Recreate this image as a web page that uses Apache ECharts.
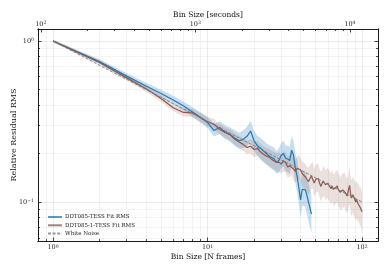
<!DOCTYPE html>
<html><head><meta charset="utf-8">
<script src="https://cdn.jsdelivr.net/npm/echarts@6/dist/echarts.min.js"></script>
<style>html,body{margin:0;padding:0;background:#fff}#c{width:389px;height:272px}</style>
</head><body><div id="c"></div>
<script>
// ---------------- data ----------------
const bins = [1,2,3,4,5,6,7,8,9,10,11,12,13,14,15,16,17,18,19,20,21,22,23,24,25,26,27,28,29,30,
  31,32,33,34,35,36,37,38,39,40,41,42,43,44,45,46,47,48,49,50,51,52,53,54,55,56,57,58,59,60,
  61,62,63,64,65,66,67,68,69,70,71,72,73,74,75,76,77,78,79,80,81,82,83,84,85,86,87,88,89,90,
  91,92,93,94,95,96,97,98,99,100];
const blueRms = [1.000,0.745,0.605,0.525,0.472,0.430,0.395,0.362,0.335,0.312,
  0.278,0.290,0.272,0.262,0.250,0.240,0.245,0.256,0.276,0.240,
  0.224,0.216,0.208,0.200,0.193,0.189,0.185,0.176,0.182,0.195,
  0.200,0.187,0.185,0.181,0.210,0.195,0.162,0.145,0.122,0.103,
  0.120,0.122,0.119,0.110,0.100,0.092,0.084];
const blueErr = [0.008,0.014,0.018,0.021,0.024,0.026,0.028,0.030,0.032,0.035,
  0.037,0.040,0.042,0.045,0.048,0.050,0.055,0.060,0.065,0.062,
  0.062,0.064,0.066,0.066,0.068,0.070,0.072,0.070,0.075,0.078,
  0.080,0.080,0.082,0.085,0.090,0.090,0.095,0.100,0.100,0.110,
  0.105,0.110,0.110,0.115,0.120,0.120,0.120];
const brownRms = [1.000,0.735,0.590,0.505,0.440,0.385,0.360,0.358,0.335,0.315,
  0.305,0.282,0.270,0.262,0.245,0.236,0.228,0.218,0.222,0.212,
  0.215,0.205,0.198,0.193,0.190,0.184,0.180,0.176,0.177,0.172,
  0.180,0.176,0.165,0.168,0.172,0.160,0.155,0.162,0.166,0.158,
  0.150,0.147,0.143,0.138,0.134,0.140,0.145,0.147,0.131,0.138,
  0.142,0.140,0.132,0.125,0.128,0.135,0.133,0.128,0.130,0.131,
  0.127,0.124,0.121,0.126,0.120,0.118,0.122,0.124,0.126,0.120,
  0.117,0.115,0.112,0.116,0.119,0.117,0.120,0.114,0.112,0.109,
  0.112,0.121,0.127,0.115,0.106,0.108,0.111,0.108,0.106,0.103,
  0.100,0.104,0.101,0.098,0.100,0.096,0.093,0.094,0.089,0.087];
const brownErr = [0.008,0.012,0.015,0.018,0.020,0.022,0.024,0.026,0.028,0.030,
  0.031,0.032,0.033,0.034,0.036,0.038,0.040,0.042,0.044,0.046,
  0.048,0.050,0.050,0.052,0.054,0.055,0.056,0.058,0.060,0.060,
  0.062,0.064,0.065,0.066,0.068,0.070,0.070,0.072,0.074,0.075,
  0.076,0.078,0.080,0.080,0.082,0.085,0.080,0.083,0.086,0.088,
  0.085,0.090,0.088,0.092,0.090,0.094,0.090,0.095,0.092,0.096,
  0.094,0.098,0.095,0.100,0.096,0.100,0.098,0.102,0.100,0.104,
  0.100,0.105,0.102,0.106,0.104,0.108,0.105,0.110,0.106,0.110,
  0.108,0.112,0.115,0.110,0.112,0.114,0.110,0.115,0.112,0.116,
  0.114,0.118,0.115,0.120,0.116,0.120,0.118,0.122,0.120,0.125];
const whiteNoiseN = [1, 100];
const whiteNoiseRms = [1, 0.1];
const cadenceSec = 120;
const xMajor = [1, 10, 100],         xMajorExp = ['0', '1', '2'];
const topMajor = [100, 1000, 10000], topMajorExp = ['2', '3', '4'];
const yMajor = [0.1, 1],             yMajorExp = ['−1', '0'];
const seriesNames = ['DDT085-TESS Fit RMS', 'DDT085-1-TESS Fit RMS', 'White Noise'];

// ---------------- helpers ----------------
const L = Math.log10;
const F = 'DejaVu Serif';
const xLog = [-0.097, 2.103];
const yLog = [-1.242, 0.0745];
const tLog = [xLog[0] + L(cadenceSec), xLog[1] + L(cadenceSec)];
function minorLogs(lo, hi) {
  const out = [];
  for (let e = Math.floor(lo) - 1; e <= Math.ceil(hi); e++)
    for (let m = 2; m <= 9; m++) { const v = L(m) + e; if (v >= lo && v <= hi) out.push(v); }
  return out;
}
function fmt(major, exps) {
  return v => { for (let i = 0; i < major.length; i++) if (Math.abs(L(major[i]) - v) < 1e-6) return '{b|10}{s|' + exps[i] + '}'; return ''; };
}
const dark = '#1a1a1a';
function axis(range, pos, ticks, tickLen, opts) {
  return Object.assign({
    type: 'value', position: pos, min: range[0], max: range[1],
    axisLine: { show: true, onZero: false, lineStyle: { color: dark, width: 1 } },
    axisTick: { show: true, inside: true, length: tickLen, customValues: ticks, lineStyle: { color: dark, width: 0.8 } },
    axisLabel: { show: false },
    splitLine: { show: false },
    splitArea: { show: false },
    nameMoveOverlap: false
  }, opts);
}
const rich = {
  b: { fontFamily: F, fontSize: 6.5, color: '#222' },
  s: { fontFamily: F, fontSize: 4.6, color: '#222', verticalAlign: 'top' }
};
const nameStyle = { fontFamily: F, fontSize: 7.5, color: '#111' };

const xMajLogs = xMajor.map(L), yMajLogs = yMajor.map(L), tMajLogs = topMajor.map(L);

const xAxes = [
  axis(xLog, 'bottom', xMajLogs, 3.5, {
    axisLabel: { show: true, customValues: xMajLogs, formatter: fmt(xMajor, xMajorExp), margin: 3, rich: rich },
    splitLine: { show: true, lineStyle: { color: '#dddddd', width: 0.6 } },
    name: 'Bin Size [N frames]', nameLocation: 'middle', nameGap: 12, nameTextStyle: nameStyle
  }),
  axis(xLog, 'bottom', minorLogs(xLog[0], xLog[1]), 2, {
    splitLine: { show: true, lineStyle: { color: '#ebebeb', width: 0.6 } }
  }),
  axis(tLog, 'top', tMajLogs, 3.5, {
    axisLabel: { show: true, customValues: tMajLogs, formatter: fmt(topMajor, topMajorExp), margin: 1.5, rich: rich },
    name: 'Bin Size [seconds]', nameLocation: 'middle', nameGap: 10, nameTextStyle: nameStyle
  }),
  axis(tLog, 'top', minorLogs(tLog[0], tLog[1]), 2, {})
];
const yAxes = [
  axis(yLog, 'left', yMajLogs, 3.5, {
    axisLabel: { show: true, customValues: yMajLogs, formatter: fmt(yMajor, yMajorExp), margin: 4, rich: rich },
    splitLine: { show: true, lineStyle: { color: '#dddddd', width: 0.6 } },
    name: 'Relative Residual RMS', nameLocation: 'middle', nameGap: 20, nameRotate: 90,
    nameTextStyle: Object.assign({}, nameStyle, { fontSize: 8 })
  }),
  axis(yLog, 'left', minorLogs(yLog[0], yLog[1]), 2, {
    splitLine: { show: true, lineStyle: { color: '#ebebeb', width: 0.6 } }
  }),
  axis(yLog, 'right', yMajLogs, 3.5, {}),
  axis(yLog, 'right', minorLogs(yLog[0], yLog[1]), 2, {})
];

function band(N, rms, err, fill) {
  const pts = N.map((n, i) => [L(n), L(rms[i]) - err[i], L(rms[i]) + err[i]]);
  return {
    type: 'custom', data: pts, silent: true, clip: true, z: 2,
    encode: { x: 0, y: [1, 2] },
    renderItem: (params, api) => {
      if (params.dataIndex !== 0) return null;
      const up = pts.map(p => api.coord([p[0], p[2]]));
      const dn = pts.map(p => api.coord([p[0], p[1]])).reverse();
      return { type: 'polygon', shape: { points: up.concat(dn) }, style: { fill: fill, stroke: null } };
    }
  };
}
function line(name, N, rms, color, style) {
  return { name: name, type: 'line', symbol: 'none', itemStyle: { color: color },
    data: N.map((n, i) => [L(n), L(rms[i])]), lineStyle: Object.assign({ color: color }, style), z: 3 };
}
const blueN = bins.slice(0, blueRms.length);
const brownN = bins.slice(0, brownRms.length);
const BLUE = '#1f77b4', BROWN = '#8c564b';

const series = [
  band(blueN, blueRms, blueErr, 'rgba(31,119,180,0.24)'),
  line(seriesNames[0], blueN, blueRms, BLUE, { width: 1.2 }),
  band(brownN, brownRms, brownErr, 'rgba(140,86,75,0.18)'),
  line(seriesNames[1], brownN, brownRms, BROWN, { width: 1.2 }),
  Object.assign(line(seriesNames[2], whiteNoiseN, whiteNoiseRms, '#777777', { width: 0.9, type: [3, 1.6] }), { z: 4 })
];

const chart = echarts.init(document.getElementById('c'), null, { renderer: 'canvas' });
chart.setOption({
  animation: false,
  backgroundColor: '#ffffff',
  grid: { left: 38, right: 11, top: 29, bottom: 31, containLabel: false, outerBoundsMode: 'none' },
  xAxis: xAxes,
  yAxis: yAxes,
  legend: {
    data: seriesNames, orient: 'vertical', left: 42, top: 209,
    itemWidth: 14, itemHeight: 6, itemGap: 2.3,
    itemStyle: { opacity: 0 },
    lineStyle: { width: 2, opacity: 0.75 },
    textStyle: { fontFamily: F, fontSize: 5.5, color: '#222', padding: [0, 0, 0, -2] }
  },
  series: series
});
</script></body></html>
